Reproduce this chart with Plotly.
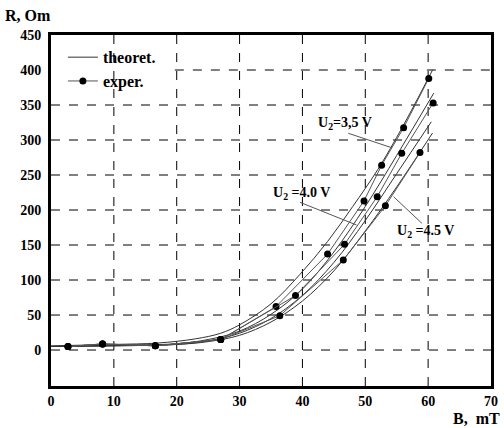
import plotly.graph_objects as go

# ---- data ----
# theoretical curves
theo_a_x = [0, 10, 17, 23, 27, 30, 35, 39.6, 44, 48, 52, 56, 60.7]
theo_a_y = [6, 8, 10, 16, 24, 36, 66, 108, 155, 205, 258, 320, 400]
theo_b_x = [0, 10, 20, 25, 30, 35, 40, 45, 50, 55, 60.9]
theo_b_y = [5, 7, 9, 15, 27, 51, 87, 140, 205, 278, 367]
theo_c_x = [0, 10, 20, 25, 30, 35, 40, 45, 50, 55, 60.5]
theo_c_y = [5, 6, 8, 13, 24, 45, 78, 125, 185, 252, 326]
theo_d_x = [0, 10, 20, 25, 30, 35, 40, 45, 50, 55, 60.7]
theo_d_y = [5, 6, 8, 12, 21, 40, 70, 113, 170, 233, 310]

# experimental series
exp_a_x = [2.7, 8.2, 16.6, 27, 35.8, 44.0, 49.8, 52.6, 56.1, 60.1]
exp_a_y = [5, 8.7, 6, 15, 62, 137, 213, 264, 317.6, 388]
exp_b_x = [2.7, 8.2, 16.6, 27, 38.9, 46.7, 51.9, 55.8, 60.8]
exp_b_y = [5, 8.7, 6, 15, 77.7, 151, 219, 281, 353]
exp_c_x = [2.7, 8.2, 16.6, 27, 36.4, 46.5, 53.2, 58.7]
exp_c_y = [5, 8.7, 6, 15, 49, 128.6, 206, 282]

x_ticks = [0, 10, 20, 30, 40, 50, 60, 70]
y_ticks = [0, 50, 100, 150, 200, 250, 300, 350, 400, 450]

labels = ["U<sub>2</sub>=3,5 V", "U<sub>2</sub> =4.0 V", "U<sub>2</sub> =4.5 V"]
label_x = [46.8, 39.9, 59.5]
label_y = [324, 224, 170]
leader_x0 = [47.3, 39.6, 54.5]
leader_y0 = [309.6, 211, 219]
leader_x1 = [54.2, 48.6, 59.0]
leader_y1 = [289, 178.6, 181]

FONT = "Liberation Serif"

def b(s):
    return "<b>" + s + "</b>"

fig = go.Figure()

theo = [(theo_a_x, theo_a_y), (theo_b_x, theo_b_y), (theo_c_x, theo_c_y), (theo_d_x, theo_d_y)]
for i, (xs, ys) in enumerate(theo):
    fig.add_trace(go.Scatter(
        x=xs, y=ys, mode="lines", line=dict(color="#333333", width=1, shape="spline"),
        name=b("theoret."), legendgroup="theo", showlegend=(i == 0)))

exps = [(exp_a_x, exp_a_y), (exp_b_x, exp_b_y), (exp_c_x, exp_c_y)]
for i, (xs, ys) in enumerate(exps):
    fig.add_trace(go.Scatter(
        x=xs, y=ys, mode="lines+markers",
        line=dict(color="#555555", width=1),
        marker=dict(color="black", size=7),
        name=b("exper."), legendgroup="exp", showlegend=(i == 0)))

# vertical & horizontal dashed grid drawn from the tick arrays
for xv in x_ticks[1:-1]:
    fig.add_shape(type="line", x0=xv, x1=xv, y0=0, y1=1, xref="x", yref="paper",
                  line=dict(color="black", width=1, dash="dash"), layer="below")
for yv in y_ticks[:-1]:
    x_start = 19.7 if yv == 400 else 0
    fig.add_shape(type="line", x0=x_start, x1=70, y0=yv, y1=yv, xref="x", yref="y",
                  line=dict(color="black", width=1, dash="dash"), layer="below")

for i in range(3):
    fig.add_shape(type="line", x0=leader_x0[i], y0=leader_y0[i], x1=leader_x1[i], y1=leader_y1[i],
                  xref="x", yref="y", line=dict(color="#555555", width=1))
    fig.add_annotation(x=label_x[i], y=label_y[i], xref="x", yref="y", text=b(labels[i]),
                       showarrow=False, font=dict(family=FONT, size=14, color="black"))

W, H = 504, 428
ml, mr, mt, mb = 51, 13, 35, 42
pw, ph = W - ml - mr, H - mt - mb

fig.add_annotation(x=(3 - ml) / pw, y=1 - (15 - mt) / ph, xref="paper", yref="paper",
                   xanchor="left", yanchor="middle", text=b("R, Om"), showarrow=False,
                   font=dict(family=FONT, size=16, color="black"))
fig.add_annotation(x=(502 - ml) / pw, y=1 - (418 - mt) / ph, xref="paper", yref="paper",
                   xanchor="right", yanchor="middle", text=b("B,  mT"), showarrow=False,
                   font=dict(family=FONT, size=16, color="black"))

tickfont = dict(family=FONT, size=14, color="black")
fig.update_xaxes(range=[0, 70], tickvals=x_ticks, ticktext=[b(str(v)) for v in x_ticks],
                 showgrid=False, automargin=False,
                 showline=True, linecolor="black", linewidth=3, mirror=True,
                 zeroline=False, ticks="", tickfont=tickfont)
fig.update_yaxes(range=[-51.4, 450], tickvals=y_ticks, ticktext=[b(str(v)) for v in y_ticks],
                 showgrid=False, automargin=False,
                 showline=True, linecolor="black", linewidth=3, mirror=True,
                 zeroline=False, ticks="", tickfont=tickfont, ticklabelstandoff=4)

fig.update_layout(
    width=W, height=H,
    margin=dict(l=ml, r=mr, t=mt, b=mb, autoexpand=False),
    paper_bgcolor="white", plot_bgcolor="white",
    showlegend=True,
    legend=dict(x=0.027, y=0.985, xanchor="left", yanchor="top",
                bgcolor="rgba(0,0,0,0)", tracegroupgap=0,
                font=dict(family=FONT, size=16, color="black")),
)

fig.write_html("out.html", config={"displayModeBar": False},
               post_script="document.body.style.margin='0';document.body.style.padding='0';")
